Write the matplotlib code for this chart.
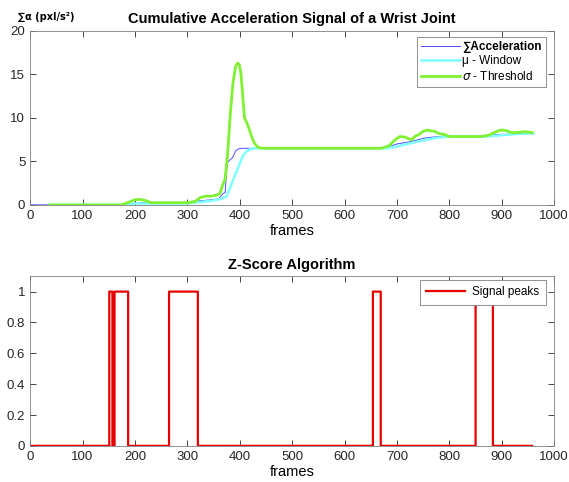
import numpy as np
import matplotlib.pyplot as plt

# --- data ---
acc_x = [0, 180, 195, 210, 300, 320, 340, 360, 368, 372, 376, 380, 386, 392, 398, 405,
         670, 685, 700, 720, 735, 750, 770, 790, 800, 870, 885, 900, 930, 960]
acc_y = [0, 0, 0.15, 0.25, 0.25, 0.45, 0.55, 0.7, 1.3, 1.4, 4.8, 5.1, 5.4, 6.2, 6.45, 6.5,
         6.5, 6.7, 7.0, 7.2, 7.4, 7.65, 7.8, 7.9, 7.9, 7.9, 8.05, 8.1, 8.15, 8.2]

win_x = [38, 180, 200, 300, 320, 345, 365, 375, 385, 395, 405, 412, 420, 430, 440,
         680, 700, 720, 750, 775, 800, 870, 900, 930, 960]
win_y = [0, 0, 0.15, 0.15, 0.3, 0.45, 0.7, 1.0, 2.5, 4.0, 5.5, 6.1, 6.4, 6.5, 6.5,
         6.5, 6.7, 7.0, 7.4, 7.7, 7.85, 7.85, 8.0, 8.15, 8.2]

thr_x = [38, 175, 190, 200, 210, 220, 230, 300, 315, 325, 335, 345, 355, 362, 367, 372,
         377, 382, 387, 392, 396, 399, 402, 405, 409, 413, 418, 423, 428, 433, 438, 445,
         670, 685, 695, 705, 715, 722, 728, 735, 742, 750, 757, 765, 772, 780, 790, 800,
         860, 875, 885, 895, 902, 910, 918, 925, 935, 945, 958]
thr_y = [0, 0, 0.35, 0.6, 0.62, 0.5, 0.25, 0.25, 0.4, 0.85, 1.0, 1.0, 1.1, 1.3, 2.2, 3.0,
         6.0, 10.5, 14.0, 15.9, 16.3, 16.1, 15.2, 13.0, 10.0, 9.5, 8.7, 7.8, 7.1, 6.7, 6.55, 6.5,
         6.5, 6.8, 7.4, 7.85, 7.8, 7.6, 7.5, 7.9, 8.1, 8.45, 8.6, 8.5, 8.45, 8.2, 8.1, 7.85,
         7.85, 8.0, 8.3, 8.55, 8.6, 8.5, 8.3, 8.3, 8.35, 8.4, 8.3]

n_frames = 958
peak_starts = [151, 161, 265, 654, 850]
peak_ends = [157, 187, 320, 669, 883]

plt.rcParams['font.family'] = ['Liberation Sans', 'DejaVu Sans']
plt.rcParams['mathtext.fontset'] = 'dejavusans'


def matlab_style(ax):
    ax.tick_params(direction='in', top=True, right=True, labelsize=9.5,
                   colors='#262626', length=4, width=0.6)
    for s in ax.spines.values():
        s.set_color('#808080')
        s.set_linewidth(0.6)


fig = plt.figure(figsize=(5.69, 4.82), dpi=100)
ax1 = fig.add_axes([0.053, 0.575, 0.921, 0.361])
ax2 = fig.add_axes([0.053, 0.075, 0.921, 0.352])

# top panel
ax1.plot(acc_x, acc_y, color=(0.3, 0.3, 1.0), lw=0.7, label='∑Acceleration')
ax1.plot(win_x, win_y, color=(0.5, 1.0, 1.0), lw=1.8, label='μ - Window')
ax1.plot(thr_x, thr_y, color=(0.5, 0.95, 0.2), lw=2.0, label='$\\sigma$ - Threshold')
ax1.set_xlim(0, 1000)
ax1.set_ylim(0, 20)
ax1.set_xticks(range(0, 1001, 100))
ax1.set_yticks(range(0, 21, 5))
ax1.set_xlabel('frames', fontsize=10.5, labelpad=2)
ax1.set_title('Cumulative Acceleration Signal of a Wrist Joint', fontsize=10.5,
              fontweight='bold', pad=6)
matlab_style(ax1)
leg1 = ax1.legend(loc='upper right', bbox_to_anchor=(0.991, 0.985), fontsize=8.5,
                  fancybox=False, edgecolor='#808080', borderaxespad=0.3,
                  handlelength=3.3, handletextpad=0.2, labelspacing=0.2,
                  borderpad=0.35, framealpha=1)
leg1.get_frame().set_linewidth(0.6)
leg1.get_texts()[0].set_fontweight('bold')
fig.text(0.032, 0.965, '∑α (pxl/s²)', fontsize=7, fontweight='bold',
         family=['DejaVu Sans'], va='center', ha='left')

# bottom panel
frames = np.arange(1, n_frames + 1)
signal = np.zeros(n_frames)
for s, e in zip(peak_starts, peak_ends):
    signal[(frames >= s) & (frames < e)] = 1
ax2.plot(frames, signal, color=(0.9, 0.0, 0.0), lw=1.6, drawstyle='steps-post',
         label='Signal peaks')
ax2.set_xlim(0, 1000)
ax2.set_ylim(0, 1.1)
ax2.set_xticks(range(0, 1001, 100))
ax2.set_yticks([0, 0.2, 0.4, 0.6, 0.8, 1])
ax2.set_yticklabels(['0', '0.2', '0.4', '0.6', '0.8', '1'])
ax2.set_xlabel('frames', fontsize=10.5, labelpad=2)
ax2.set_title('Z-Score Algorithm', fontsize=10.5, fontweight='bold', pad=5)
matlab_style(ax2)
leg2 = ax2.legend(loc='upper right', bbox_to_anchor=(0.991, 1.0), fontsize=8.5,
                  fancybox=False, edgecolor='#808080', borderaxespad=0.3,
                  handlelength=3.3, handletextpad=0.6, borderpad=0.55,
                  framealpha=1)
leg2.get_frame().set_linewidth(0.6)

fig.savefig('out.png', dpi=100)
